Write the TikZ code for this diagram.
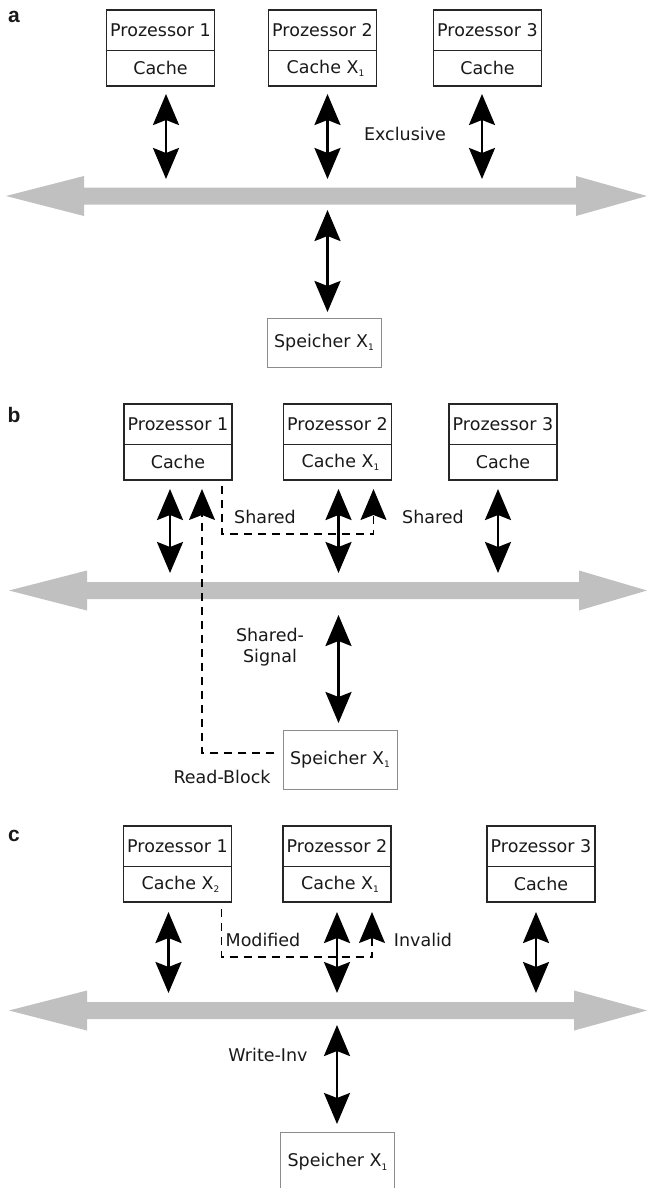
\documentclass[tikz,border=0pt]{standalone}
\usepackage{fontspec}
\setmainfont{DejaVu Sans}
\newfontfamily\lblfont{Liberation Sans}
\usetikzlibrary{arrows.meta,positioning}
\definecolor{busgray}{RGB}{192,192,192}
\definecolor{memline}{RGB}{140,140,140}
\newcommand{\sub}[1]{\raisebox{-3.5pt}{\fontsize{9}{9}\selectfont #1}}
\tikzset{
  bigtip/.tip={Stealth[length=31pt,width=26pt,inset=5pt]},
  proc/.style={draw=black!85,line width=1.6pt,minimum width=108pt,minimum height=40.5pt,inner sep=0pt,outer sep=0pt},
  cache/.style={proc,minimum height=35.5pt},
  mem/.style={draw=memline,line width=1pt,minimum width=114pt,inner sep=0pt,outer sep=0pt},
  dbl/.style={line width=2.6pt,bigtip-bigtip},
  dsh/.style={line width=1.3pt,dash pattern=on 8pt off 6pt},
  bus/.style={fill=busgray},
  lbl/.style={font=\lblfont\bfseries\fontsize{21}{21}\selectfont}
}

\begin{document}
\begin{tikzpicture}[x=1pt,y=-1pt,font=\fontsize{17.5}{21}\selectfont,text=black!90]
\useasboundingbox (0,0) rectangle (647,1188);

% a: exclusive
\node[lbl] (la) at (14,17) {a};
\node[proc] (pa1) at (160.5,30.25) {Prozessor 1};
\node[cache,below=0pt of pa1] (ca1) {Cache};
\node[proc] (pa2) at (322.5,30.25) {Prozessor 2};
\node[cache,below=0pt of pa2] (ca2) {\hspace*{6pt}Cache X\sub{1}};
\node[proc] (pa3) at (487.5,30.25) {Prozessor 3};
\node[cache,below=0pt of pa3] (ca3) {Cache};
\fill[bus] (6,196) -- (84,176) -- (84,187.5) -- (576,187.5) -- (576,176) -- (647,196)
  -- (576,216) -- (576,204.5) -- (84,204.5) -- (84,216) -- cycle;
\coordinate (ba1) at (166,196);
\coordinate (ba2) at (327.5,196);
\coordinate (ba3) at (482,196);
\node[mem,minimum height=49pt] (sa) at (324,342.5) {Speicher X\sub{1}};
\draw[dbl,shorten <=8pt,shorten >=17pt] (ca1.south -| ba1) -- (ba1);
\draw[dbl,shorten <=8pt,shorten >=17pt] (ca2.south -| ba2) -- (ba2);
\draw[dbl,shorten <=8pt,shorten >=17pt] (ca3.south -| ba3) -- (ba3);
\draw[dbl,shorten <=14pt,shorten >=6pt] (ba2) -- (ba2 |- sa.north);
\node (exa) at (405,134) {Exclusive};

% b: read miss, shared
\node[lbl] (lb) at (14,415) {b};
\node[proc] (pb1) at (178,424.25) {Prozessor 1};
\node[cache,below=0pt of pb1] (cb1) {Cache};
\node[proc] (pb2) at (337.5,424.25) {Prozessor 2};
\node[cache,below=0pt of pb2] (cb2) {\hspace*{6pt}Cache X\sub{1}};
\node[proc] (pb3) at (503,424.25) {Prozessor 3};
\node[cache,below=0pt of pb3] (cb3) {Cache};
\fill[bus] (9,590.5) -- (87,570.5) -- (87,582) -- (579,582) -- (579,570.5) -- (647,590.5)
  -- (579,610.5) -- (579,599) -- (87,599) -- (87,610.5) -- cycle;
\coordinate (bb1) at (170,590.5);
\coordinate (bb2) at (338.5,590.5);
\coordinate (bb3) at (498,590.5);
\node[mem,minimum height=59pt] (sb) at (340,759.5) {Speicher X\sub{1}};
\draw[dbl,shorten <=9pt,shorten >=17.5pt] (cb1.south -| bb1) -- (bb1);
\draw[dbl,shorten <=9pt,shorten >=17.5pt] (cb2.south -| bb2) -- (bb2);
\draw[dbl,shorten <=9pt,shorten >=17.5pt] (cb3.south -| bb3) -- (bb3);
\draw[dbl,shorten <=24.5pt,shorten >=7pt] (bb2) -- (bb2 |- sb.north);
\draw[dsh,-bigtip] ([xshift=-10pt,yshift=-6pt]cb1.south east) |- ([xshift=-18pt,yshift=-54pt]cb2.south east)
  -- ([xshift=-18pt,yshift=-9pt]cb2.south east);
\draw[dsh,-bigtip] ([xshift=-9pt,yshift=6.5pt]sb.west) -| ([xshift=24pt,yshift=-9pt]cb1.south);
\node (shb1) at (265,517) {Shared};
\node (shb2) at (433,517) {Shared};
\node[align=center] (ssb) at (270,647.5) {Shared-\\Signal};
\node (rbb) at (222,777) {Read-Block};

% c: write, invalidate
\node[lbl] (lc) at (14,836) {c};
\node[proc] (pc1) at (177.5,846.25) {Prozessor 1};
\node[cache,below=0pt of pc1] (cc1) {\hspace*{6pt}Cache X\sub{2}};
\node[proc] (pc2) at (337,846.25) {Prozessor 2};
\node[cache,below=0pt of pc2] (cc2) {\hspace*{6pt}Cache X\sub{1}};
\node[proc] (pc3) at (541,846.25) {Prozessor 3};
\node[cache,below=0pt of pc3] (cc3) {Cache};
\fill[bus] (9,1010.5) -- (87,990.5) -- (87,1002) -- (574,1002) -- (574,990.5) -- (647,1010.5)
  -- (574,1030.5) -- (574,1019) -- (87,1019) -- (87,1030.5) -- cycle;
\coordinate (bc1) at (168.5,1010.5);
\coordinate (bc2) at (337,1010.5);
\coordinate (bc3) at (536,1010.5);
\node[mem,minimum height=60pt] (sc) at (337.5,1162) {Speicher X\sub{1}};
\draw[dbl,shorten <=10pt,shorten >=17.5pt] (cc1.south -| bc1) -- (bc1);
\draw[dbl,shorten <=10pt,shorten >=17.5pt] (cc2.south -| bc2) -- (bc2);
\draw[dbl,shorten <=10pt,shorten >=17.5pt] (cc3.south -| bc3) -- (bc3);
\draw[dbl,shorten <=14.5pt,shorten >=8pt] (bc2) -- (bc2 |- sc.north);
\draw[dsh,-bigtip] ([xshift=-10pt,yshift=-7pt]cc1.south east) |- ([xshift=-19pt,yshift=-55pt]cc2.south east)
  -- ([xshift=-19pt,yshift=-10pt]cc2.south east);
\node (mdc) at (263,940) {Modified};
\node (ivc) at (423,940) {Invalid};
\node (wic) at (268,1055) {Write-Inv};
\end{tikzpicture}
\end{document}
